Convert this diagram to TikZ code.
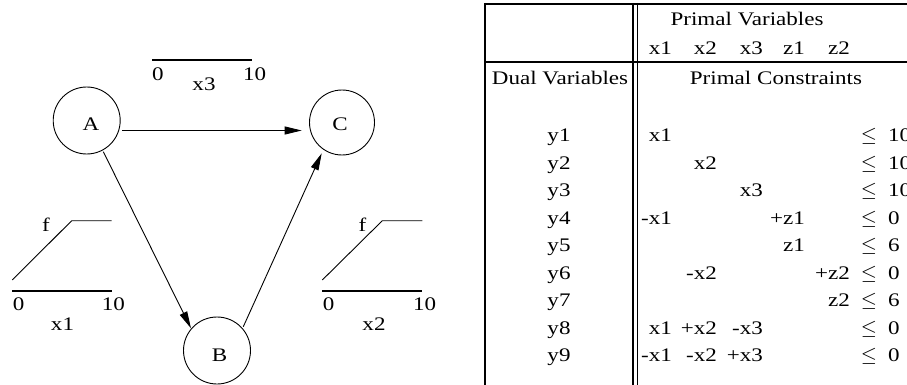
\documentclass[tikz,border=0pt]{standalone}
\usepackage{fontspec}
\setmainfont{Liberation Serif}[FakeStretch=1.2]
\usetikzlibrary{arrows.meta,calc}
\tikzset{
  txt/.style={inner sep=0pt, font=\fontsize{19.2pt}{23pt}\selectfont},
  circ/.style={circle, draw, line width=0.9pt, minimum size=#1, inner sep=0pt},
  arr/.style={-{Triangle[length=17pt,width=8pt]}, line width=0.9pt},
  ramp/.style={line width=0.9pt},
  axisbar/.style={line width=2pt},
}
\newcommand\tabent[4]{\node[txt,anchor=base east] (#1) at (#2,#3) {#4};}
\begin{document}
\begin{tikzpicture}[x=1pt,y=-1pt]
\useasboundingbox (0,0) rectangle (907,385);
% ---------- network ----------
\node[circ=67pt] (A) at (86.7,120.5) {};
\node[circ=65pt] (C) at (342,122.5) {};
\node[circ=67pt] (B) at (217,350.5) {};
\node[txt,anchor=base] (lA) at (91,131) {A};
\node[txt,anchor=base] (lC) at (340,131) {C};
\node[txt,anchor=base] (lB) at (219.5,361) {B};
\draw[arr] ($(A.center)+(35.3,10)$) -- ($(C.center)+(-40.3,8)$);
\draw[arr] ($(A.center)+(16.6,31.2)$) -- ($(B.center)+(-26,-22.2)$);
\draw[arr] ($(B.center)+(26.3,-23.8)$) -- ($(C.center)+(-20.3,30.8)$);
% top bar x3
\draw[axisbar] (152,60) -- (252,60);
\node[txt,anchor=base west] (t0) at (152,81) {0};
\node[txt,anchor=base west] (t10) at (243,81) {10};
\node[txt,anchor=base] (tx3) at (204,91) {x3};
% left function
\draw[ramp] (12.3,280) -- (71.7,220.7) -- (111.7,220.7);
\draw[axisbar] (12.3,290.5) -- (111.7,290.5);
\node[txt,anchor=base] (lf) at (46,231) {f};
\node[txt,anchor=base west] (l0) at (12.7,310) {0};
\node[txt,anchor=base west] (l10) at (101.7,310) {10};
\node[txt,anchor=base] (lx1) at (62.5,330.7) {x1};
% right function
\draw[ramp] (322.3,280) -- (382.3,220.7) -- (422.3,220.7);
\draw[axisbar] (322.3,290.7) -- (422.3,290.7);
\node[txt,anchor=base] (rf) at (362.5,231) {f};
\node[txt,anchor=base west] (r0) at (322.7,310) {0};
\node[txt,anchor=base west] (r10) at (413,310) {10};
\node[txt,anchor=base] (rx2) at (374,330.5) {x2};
% ---------- table ----------
\draw[line width=2.4pt] (484,4) -- (907,4);
\draw[line width=2.2pt] (485,3) -- (485,385);
\draw[line width=1.6pt] (633,3) -- (633,385);
\draw[line width=1.6pt] (637.5,3) -- (637.5,385);
\draw[line width=2pt] (484,62.5) -- (907,62.5);
\node[txt,anchor=base] (pv) at (747,26) {Primal Variables};
\tabent{hx1}{672}{55}{x1}
\tabent{hx2}{717}{55}{x2}
\tabent{hx3}{763}{55}{x3}
\tabent{hz1}{805}{55}{z1}
\tabent{hz2}{850}{55}{z2}
\node[txt,anchor=base] (dv) at (560,85) {Dual Variables};
\node[txt,anchor=base] (pc) at (776,85) {Primal Constraints};
\foreach \i/\rhs in {1/10,2/10,3/10,4/0,5/6,6/0,7/6,8/0,9/0}{
  \pgfmathsetmacro\yy{141.5+(\i-1)*27.5}
  \node[txt,anchor=base] (y\i) at (559,\yy) {y\i};
  \node[txt,anchor=base] (le\i) at (869,\yy) {$\leq$};
  \node[txt,anchor=base west] (rhs\i) at (888,\yy) {\rhs};
}
\tabent{a1}{672}{141.5}{x1}
\tabent{a2}{717}{169}{x2}
\tabent{a3}{763}{196.5}{x3}
\tabent{a4a}{672}{224}{-x1}
\tabent{a4b}{805}{224}{+z1}
\tabent{a5}{805}{251.5}{z1}
\tabent{a6a}{717}{279}{-x2}
\tabent{a6b}{850}{279}{+z2}
\tabent{a7}{850}{306.5}{z2}
\tabent{a8a}{672}{334}{x1}
\tabent{a8b}{717}{334}{+x2}
\tabent{a8c}{763}{334}{-x3}
\tabent{a9a}{672}{361.5}{-x1}
\tabent{a9b}{717}{361.5}{-x2}
\tabent{a9c}{763}{361.5}{+x3}
\end{tikzpicture}
\end{document}
